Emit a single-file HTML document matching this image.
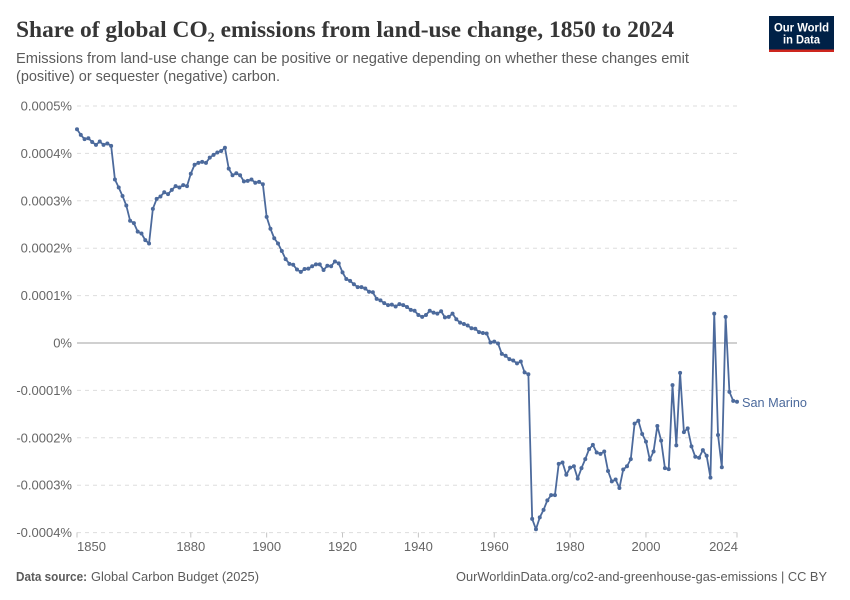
<!DOCTYPE html>
<html lang="en">
<head>
<meta charset="utf-8">
<title>Share of global CO₂ emissions from land-use change, 1850 to 2024</title>
<style>
html,body{margin:0;padding:0;background:#fff;width:850px;height:600px;overflow:hidden}
svg{display:block}
text{font-family:"Liberation Sans",sans-serif}
</style>
</head>
<body>
<svg id="chart" xmlns="http://www.w3.org/2000/svg" width="850" height="600" viewBox="0 0 850 600">
  <rect width="850" height="600" fill="#fff"/>
  <text x="16" y="37" font-size="23" font-weight="bold" fill="#363636" textLength="658" lengthAdjust="spacingAndGlyphs" style="font-family:'Liberation Serif',serif">Share of global CO₂ emissions from land-use change, 1850 to 2024</text>
  <text x="16" y="63" font-size="15" fill="#5b5b5b" textLength="673" lengthAdjust="spacingAndGlyphs">Emissions from land-use change can be positive or negative depending on whether these changes emit</text>
  <text x="16" y="81" font-size="15" fill="#5b5b5b" textLength="264" lengthAdjust="spacingAndGlyphs">(positive) or sequester (negative) carbon.</text>
  <g>
    <rect x="769" y="16" width="65" height="36" fill="#002147"/>
    <rect x="769" y="49.5" width="65" height="2.5" fill="#ce261e"/>
    <text x="801.5" y="31.5" font-size="12" font-weight="bold" fill="#fff" text-anchor="middle" textLength="55" lengthAdjust="spacingAndGlyphs">Our World</text>
    <text x="801.5" y="43.5" font-size="12" font-weight="bold" fill="#fff" text-anchor="middle" textLength="37" lengthAdjust="spacingAndGlyphs">in Data</text>
  </g>
  <g id="grid"></g>
  <g id="yLabels"></g>
  <g id="xAxis"></g>
  <g id="series"></g>
  <text id="seriesLabel" x="742" y="407" font-size="13" fill="#4c6a9c" textLength="65" lengthAdjust="spacingAndGlyphs">San Marino</text>
  <text x="16" y="581" font-size="13" font-weight="bold" fill="#5b5b5b" textLength="71" lengthAdjust="spacingAndGlyphs">Data source:</text>
  <text x="91" y="581" font-size="13" fill="#5b5b5b" textLength="168" lengthAdjust="spacingAndGlyphs">Global Carbon Budget (2025)</text>
  <text x="827" y="581" font-size="13" fill="#5b5b5b" text-anchor="end" textLength="371" lengthAdjust="spacingAndGlyphs">OurWorldinData.org/co2-and-greenhouse-gas-emissions | CC BY</text>
</svg>
<script>
const startYear = 1850;
const yTicks = [0.0005, 0.0004, 0.0003, 0.0002, 0.0001, 0, -0.0001, -0.0002, -0.0003, -0.0004];
const yTickLabels = ["0.0005%", "0.0004%", "0.0003%", "0.0002%", "0.0001%", "0%", "-0.0001%", "-0.0002%", "-0.0003%", "-0.0004%"];
const xTicks = [1850, 1880, 1900, 1920, 1940, 1960, 1980, 2000, 2024];
const sanMarino = [
0.000451,0.000439,0.000430,0.000432,0.000424,0.000418,0.000425,0.000418,0.000421,0.000416,
0.000345,0.000328,0.000310,0.000290,0.000258,0.000253,0.000235,0.000231,0.000217,0.000210,
0.000283,0.000304,0.000309,0.000318,0.000314,0.000323,0.000331,0.000328,0.000333,0.000331,
0.000357,0.000376,0.000380,0.000382,0.000380,0.000391,0.000397,0.000402,0.000405,0.000412,
0.000368,0.000354,0.000358,0.000354,0.000341,0.000342,0.000345,0.000338,0.000340,0.000335,
0.000266,0.000241,0.000221,0.000210,0.000194,0.000177,0.000167,0.000165,0.000155,0.000150,
0.000156,0.000157,0.000162,0.000166,0.000166,0.000154,0.000163,0.000162,0.000172,0.000168,
0.000149,0.000135,0.000131,0.000124,0.000118,0.000118,0.000115,0.000108,0.000107,0.000093,
0.000090,0.000084,0.000080,0.000081,0.000077,0.000082,0.000080,0.000076,0.000070,0.000068,
0.000059,0.000055,0.000059,0.000068,0.000064,0.000062,0.000067,0.000054,0.000055,0.000062,
0.000050,0.000043,0.000040,0.000037,0.000031,0.000030,0.000023,0.000021,0.000020,0.000001,
0.000003,-0.000001,-0.000023,-0.000027,-0.000034,-0.000037,-0.000043,-0.000039,-0.000062,-0.000066,
-0.000371,-0.000393,-0.000368,-0.000352,-0.000332,-0.000321,-0.000321,-0.000255,-0.000252,-0.000278,
-0.000263,-0.000260,-0.000286,-0.000264,-0.000245,-0.000224,-0.000215,-0.000231,-0.000234,-0.000229,
-0.000270,-0.000292,-0.000288,-0.000306,-0.000267,-0.000260,-0.000245,-0.000170,-0.000164,-0.000192,
-0.000208,-0.000246,-0.000229,-0.000175,-0.000206,-0.000264,-0.000266,-0.000089,-0.000216,-0.000063,
-0.000188,-0.000180,-0.000218,-0.000240,-0.000242,-0.000226,-0.000238,-0.000284,0.000062,-0.000194,
-0.000262,0.000055,-0.000103,-0.000122,-0.000124
];

const NS = "http://www.w3.org/2000/svg";
const xMin = 1850, xMax = 2024, xLeft = 77, xRight = 737;
const yZero = 343, pxPerUnit = 474000;
function xScale(year) { return xLeft + (year - xMin) / (xMax - xMin) * (xRight - xLeft); }
function yScale(v) { return yZero - v * pxPerUnit; }
function make(tag, attrs, parent, text) {
  const el = document.createElementNS(NS, tag);
  for (const k in attrs) el.setAttribute(k, attrs[k]);
  if (text !== undefined) el.textContent = text;
  parent.appendChild(el);
  return el;
}
const grid = document.getElementById("grid");
const yLabels = document.getElementById("yLabels");
const xAxis = document.getElementById("xAxis");
const series = document.getElementById("series");

yTicks.forEach(function (t, i) {
  const y = yScale(t);
  const line = make("line", {x1: xLeft, x2: xRight, y1: y, y2: y,
    stroke: t === 0 ? "#a1a1a1" : "#dddddd", "stroke-width": 1,
    "stroke-dasharray": t === 0 ? "none" : "4,4"}, grid);
  
  
  const label = make("text", {x: 72, y: y + 4.5, "font-size": 13, fill: "#666666", "text-anchor": "end"}, yLabels, yTickLabels[i]);
  
  
});

xTicks.forEach(function (yr) {
  const x = xScale(yr);
  const tick = make("line", {x1: x, x2: x, y1: 532.5, y2: 537.5, stroke: "#c4c4c4", "stroke-width": 1}, xAxis);
  
  
  const anchor = yr === xMin ? "start" : (yr === xMax ? "end" : "middle");
  const label = make("text", {x: yr === xMax ? x + 1 : x, y: 551, "font-size": 13, fill: "#666666", "text-anchor": anchor}, xAxis, String(yr));
  
  
});

const pts = sanMarino.map(function (v, i) { return xScale(startYear + i).toFixed(2) + "," + yScale(v).toFixed(2); });
const path = make("polyline", {points: pts.join(" "), fill: "none", stroke: "#4c6a9c", "stroke-width": 1.8, "stroke-linejoin": "round"}, series);


sanMarino.forEach(function (v, i) {
  const dot = make("circle", {cx: xScale(startYear + i), cy: yScale(v), r: 2, fill: "#4c6a9c"}, series);
  
  
});
</script>
</body>
</html>
